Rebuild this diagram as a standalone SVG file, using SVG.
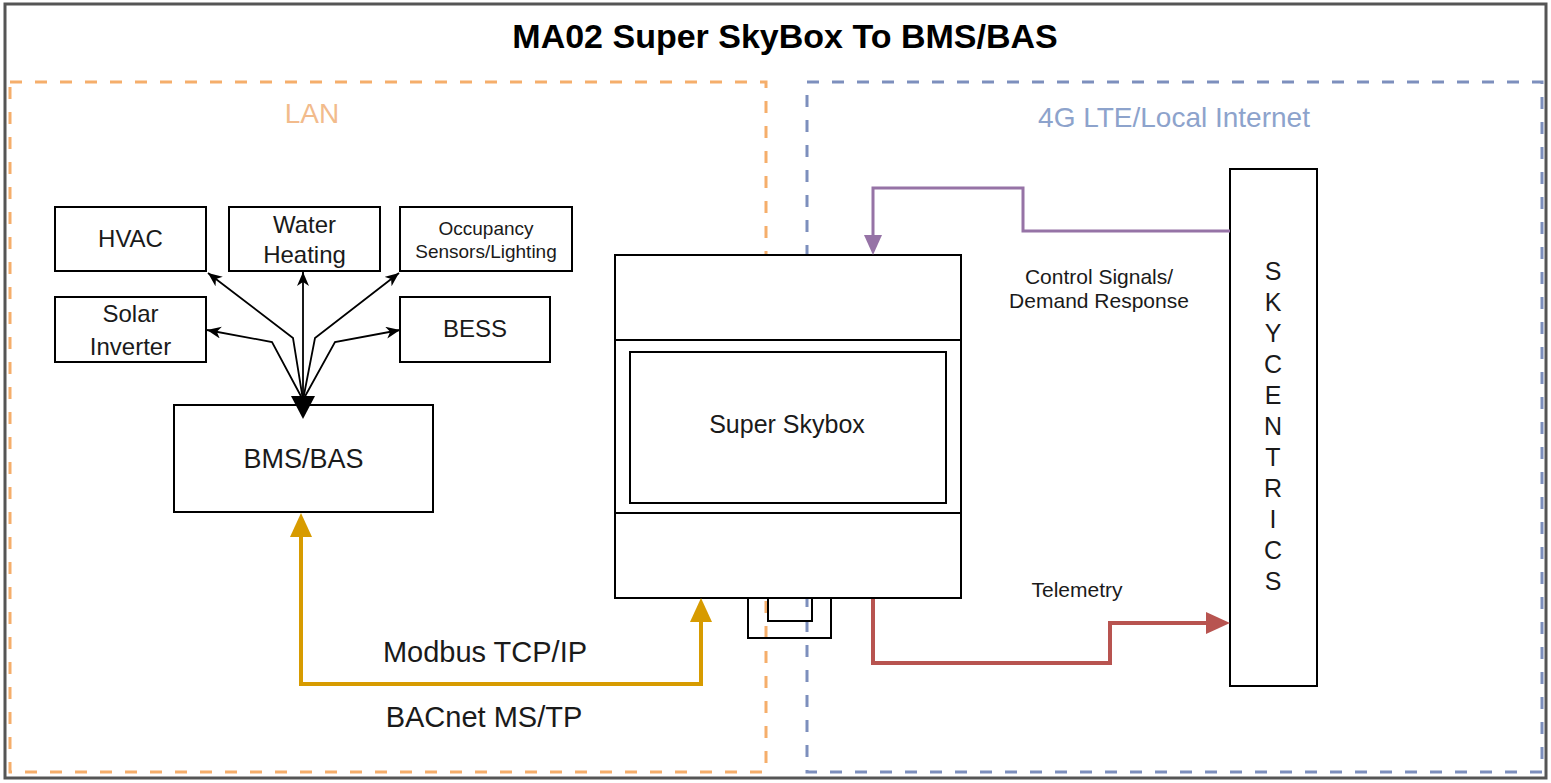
<svg xmlns="http://www.w3.org/2000/svg" width="1551" height="783" viewBox="0 0 1551 783">
<style>
text{font-family:"Liberation Sans",Arial,Helvetica,sans-serif;fill:#1a1a1a;text-anchor:middle}
.box{fill:#fff;stroke:#000;stroke-width:2}
.open{fill:none;stroke:#000;stroke-width:2}
.zone{fill:none;stroke-width:3;stroke-dasharray:12 13}
.fan{fill:none;stroke:#000;stroke-width:1.8;marker-end:url(#cls)}
</style>
<defs>
<marker id="cls" markerUnits="userSpaceOnUse" markerWidth="15" markerHeight="13" refX="14" refY="6" orient="auto" viewBox="0 0 15 13"><path d="M0,0 L14,6 L0,12 L4,6 z" fill="#000"/></marker>
<marker id="ay" markerUnits="userSpaceOnUse" markerWidth="24" markerHeight="22" refX="0" refY="11" orient="auto-start-reverse" viewBox="0 0 24 22"><path d="M0,0 L24,11 L0,22 z" fill="#D79B00"/></marker>
<marker id="ar" markerUnits="userSpaceOnUse" markerWidth="24" markerHeight="22" refX="0" refY="11" orient="auto" viewBox="0 0 24 22"><path d="M0,0 L24,11 L0,22 z" fill="#B85450"/></marker>
<marker id="ap" markerUnits="userSpaceOnUse" markerWidth="20" markerHeight="18" refX="0" refY="9" orient="auto" viewBox="0 0 20 18"><path d="M0,0 L20,9 L0,18 z" fill="#9673A6"/></marker>
</defs>
<rect x="0" y="0" width="1551" height="783" fill="#fff"/>
<g id="frame">
<rect x="5" y="4" width="1541" height="774" fill="none" stroke="#555" stroke-width="3"/>
<text x="785" y="48" font-size="34" font-weight="bold" style="fill:#000">MA02 Super SkyBox To BMS/BAS</text>
</g>
<g id="lan-zone">
<rect class="zone" x="10" y="82" width="756" height="690" stroke="#F5AE6B"/>
<text x="312" y="123" font-size="28" style="fill:#F2BB8C">LAN</text>
</g>
<g id="internet-zone">
<rect class="zone" x="807" y="82" width="735" height="690" stroke="#7D8FBD"/>
<text x="1174" y="127" font-size="28" style="fill:#8DA3CC">4G LTE/Local Internet</text>
</g>
<g id="hvac"><rect class="box" x="55" y="207" width="151" height="64"/><text x="130.5" y="247" font-size="24">HVAC</text></g>
<g id="water-heating"><rect class="box" x="229" y="207" width="151" height="64"/><text x="304.5" y="233" font-size="24">Water</text><text x="304.5" y="263" font-size="24">Heating</text></g>
<g id="occupancy"><rect class="box" x="400" y="207" width="172" height="64"/><text x="486" y="235" font-size="19">Occupancy</text><text x="486" y="258" font-size="19">Sensors/Lighting</text></g>
<g id="solar-inverter"><rect class="box" x="55" y="297" width="151" height="65"/><text x="130.5" y="322" font-size="24">Solar</text><text x="130.5" y="355" font-size="24">Inverter</text></g>
<g id="bess"><rect class="box" x="400" y="297" width="150" height="65"/><text x="475" y="337" font-size="24">BESS</text></g>
<g id="bms-bas"><rect class="box" x="174" y="405" width="259" height="107"/><text x="303.5" y="468" font-size="27">BMS/BAS</text></g>
<g id="super-skybox">
<rect class="box" x="615" y="255" width="346" height="343"/>
<line x1="615" y1="340" x2="961" y2="340" stroke="#000" stroke-width="2"/>
<line x1="615" y1="513" x2="961" y2="513" stroke="#000" stroke-width="2"/>
<rect class="box" x="630" y="352" width="316" height="151"/>
<text x="787" y="433" font-size="25">Super Skybox</text>
<rect class="open" x="748" y="598" width="83" height="40"/>
<rect class="open" x="768" y="598" width="44" height="23"/>
</g>
<g id="skycentrics">
<rect class="box" x="1230" y="169" width="87" height="517"/>
<text font-size="25"><tspan x="1273" y="280">S</tspan><tspan x="1273" dy="31">K</tspan><tspan x="1273" dy="31">Y</tspan><tspan x="1273" dy="31">C</tspan><tspan x="1273" dy="31">E</tspan><tspan x="1273" dy="31">N</tspan><tspan x="1273" dy="31">T</tspan><tspan x="1273" dy="31">R</tspan><tspan x="1273" dy="31">I</tspan><tspan x="1273" dy="31">C</tspan><tspan x="1273" dy="31">S</tspan></text>
</g>
<g id="connectors">
<path class="fan" d="M303,400 L293,338 L208,273"/>
<path class="fan" d="M303,400 L303,272"/>
<path class="fan" d="M303,400 L315,338 L399,273"/>
<path class="fan" d="M303,400 L272,342 L207,330"/>
<path class="fan" d="M303,400 L335,342 L400,330"/>
<polygon points="291,396 315,396 303,419" fill="#000"/>
<path d="M301,537 V684 H701 V622" fill="none" stroke="#D79B00" stroke-width="4" marker-start="url(#ay)" marker-end="url(#ay)"/>
<path d="M873,599 V663 H1110 V623 H1206" fill="none" stroke="#B85450" stroke-width="4" marker-end="url(#ar)"/>
<path d="M1230,231 H1023 V188 H873 V235" fill="none" stroke="#9673A6" stroke-width="3" marker-end="url(#ap)"/>
<text x="485" y="662" font-size="29">Modbus TCP/IP</text>
<text x="484" y="727" font-size="29">BACnet MS/TP</text>
<text x="1099" y="284" font-size="21">Control Signals/</text>
<text x="1099" y="308" font-size="21">Demand Response</text>
<text x="1077" y="597" font-size="21">Telemetry</text>
</g>
</svg>
